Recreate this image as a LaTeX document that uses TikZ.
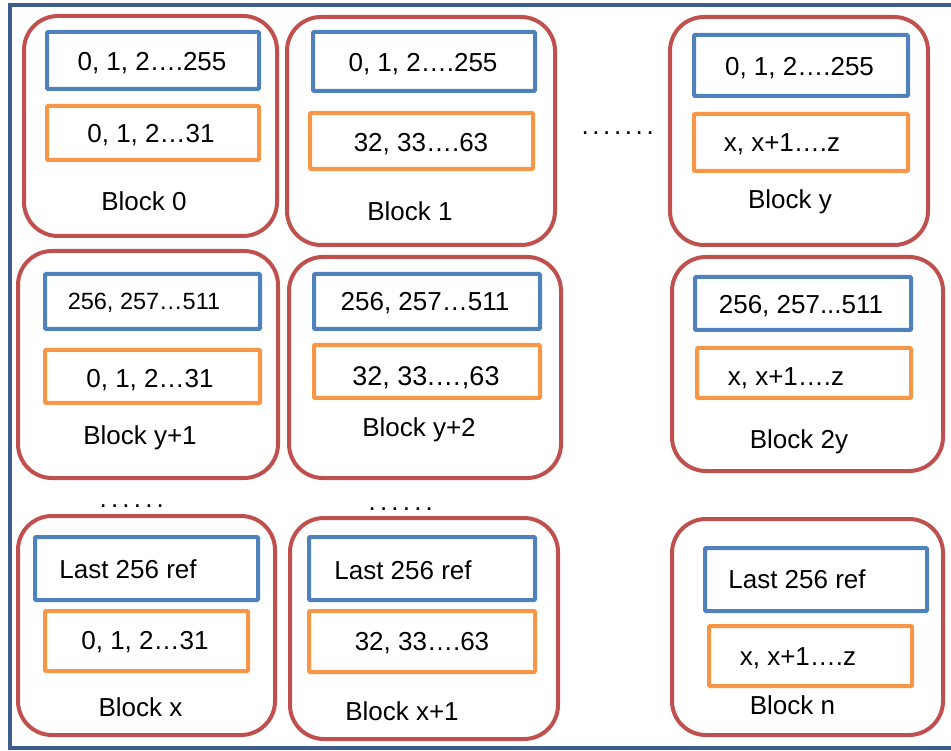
\documentclass[tikz,border=0pt]{standalone}
\usepackage{fontspec}
\setmainfont{Liberation Sans}
\usetikzlibrary{fit}

\definecolor{frameblue}{HTML}{3B5E8C}
\definecolor{blockred}{HTML}{C0504D}
\definecolor{refblue}{HTML}{4F81BD}
\definecolor{rangeorange}{HTML}{F79646}

\tikzset{
  outerframe/.style={draw=frameblue, line width=4pt},
  blockbox/.style={draw=blockred, line width=4pt, rounded corners=34pt, inner sep=0pt},
  refbox/.style={draw=refblue, line width=4pt, rounded corners=1pt, inner sep=0pt},
  rangebox/.style={draw=rangeorange, line width=4pt, rounded corners=1pt, inner sep=0pt},
  txt/.style={anchor=base, inner sep=0pt, font=\fontsize{26}{30}\selectfont},
  smalltxt/.style={txt, font=\fontsize{23.5}{28}\selectfont},
  dots/.style={anchor=base west, inner sep=0pt, font=\fontsize{26}{30}\selectfont},
}

% one block: red rounded frame, blue reference box, orange range box
\newcommand\memblock[4]{%
  \node[blockbox, fit={#2}] (#1) {};
  \node[refbox, fit={#3}] (#1ref) {};
  \node[rangebox, fit={#4}] (#1rng) {};
}

\begin{document}
\begin{tikzpicture}[x=1pt, y=-1pt]
  \useasboundingbox (0,0) rectangle (951,751);
  \clip (0,0) rectangle (951,751);

  % enclosing frame, open on the right
  \draw[outerframe] (960,5) -- (10,5) -- (10,748) -- (960,748);

  % ---- first row ----
  \memblock{b0}{(24,16) (277,236)}{(47,32) (259,89)}{(47,106) (259,160)}
  \node[txt] (b0t1) at (152,70.7) {0, 1, 2….255};
  \node[txt] (b0t2) at (151,143) {0, 1, 2…31};
  \node[txt] (b0lab) at (144,210.7) {Block 0};

  \memblock{b1}{(287,17) (555,245)}{(313,32) (535,91)}{(310,113) (533,169)}
  \node[txt] (b1t1) at (423,71.7) {0, 1, 2….255};
  \node[txt] (b1t2) at (421,151.7) {32, 33….63};
  \node[txt] (b1lab) at (410,220.7) {Block 1};

  \node[dots] (row1dots) at (581.4,135) {.\kern3.6pt.\kern3.6pt.\kern3.6pt.\kern3.6pt.\kern3.6pt.\kern3.6pt.};

  \memblock{by}{(670,17) (928,245)}{(694,35) (908,96)}{(694,114) (908,171)}
  \node[txt] (byt1) at (799.5,75.7) {0, 1, 2….255};
  \node[txt] (byt2) at (782,151.7) {x, x+1….z};
  \node[txt] (bylab) at (790,208.3) {Block y};

  % ---- second row ----
  \memblock{by1}{(18,251) (278,478)}{(45,274) (260,329)}{(45,350) (260,403)}
  \node[smalltxt] (by1t1) at (144,310) {256, 257…511};
  \node[txt] (by1t2) at (150,387.7) {0, 1, 2…31};
  \node[txt] (by1lab) at (140,444) {Block y+1};

  \memblock{by2}{(289,257) (561,478)}{(314,274) (540,329)}{(314,345) (540,398)}
  \node[txt] (by2t1) at (425,311) {256, 257…511};
  \node[txt, font=\fontsize{27}{32}\selectfont] (by2t2) at (426,385.7) {32, 33.…,63};
  \node[txt] (by2lab) at (419,436.7) {Block y+2};

  \memblock{b2y}{(672,257) (943,471)}{(695,277) (911,330)}{(697,348) (911,398)}
  \node[txt] (b2yt1) at (801,313.3) {256, 257...511};
  \node[txt] (b2yt2) at (786,385) {x, x+1….z};
  \node[txt] (b2ylab) at (799,448.3) {Block 2y};

  \node[dots] (row2dotsa) at (99.4,507) {.\kern4.2pt.\kern4.2pt.\kern4.2pt.\kern4.2pt.\kern4.2pt.};
  \node[dots] (row2dotsb) at (368.4,510) {.\kern4.2pt.\kern4.2pt.\kern4.2pt.\kern4.2pt.\kern4.2pt.};

  % ---- last row ----
  \memblock{bx}{(18,516) (275,735)}{(35,537) (258,600)}{(45,611) (248,671)}
  \node[txt] (bxt1) at (128,578.3) {Last 256 ref};
  \node[txt] (bxt2) at (145,649.3) {0, 1, 2…31};
  \node[txt] (bxlab) at (140.5,716.7) {Block x};

  \memblock{bx1}{(290,518) (558,739)}{(309,537) (535,600)}{(309,611) (535,672)}
  \node[txt] (bx1t1) at (403,579.5) {Last 256 ref};
  \node[txt] (bx1t2) at (422,650) {32, 33….63};
  \node[txt] (bx1lab) at (402,720) {Block x+1};

  \memblock{bn}{(672,519) (943,735)}{(705,548) (927,611)}{(709,626) (912,686)}
  \node[txt] (bnt1) at (797,588.3) {Last 256 ref};
  \node[txt] (bnt2) at (798,665) {x, x+1….z};
  \node[txt] (bnlab) at (792.5,714.3) {Block n};
\end{tikzpicture}
\end{document}
